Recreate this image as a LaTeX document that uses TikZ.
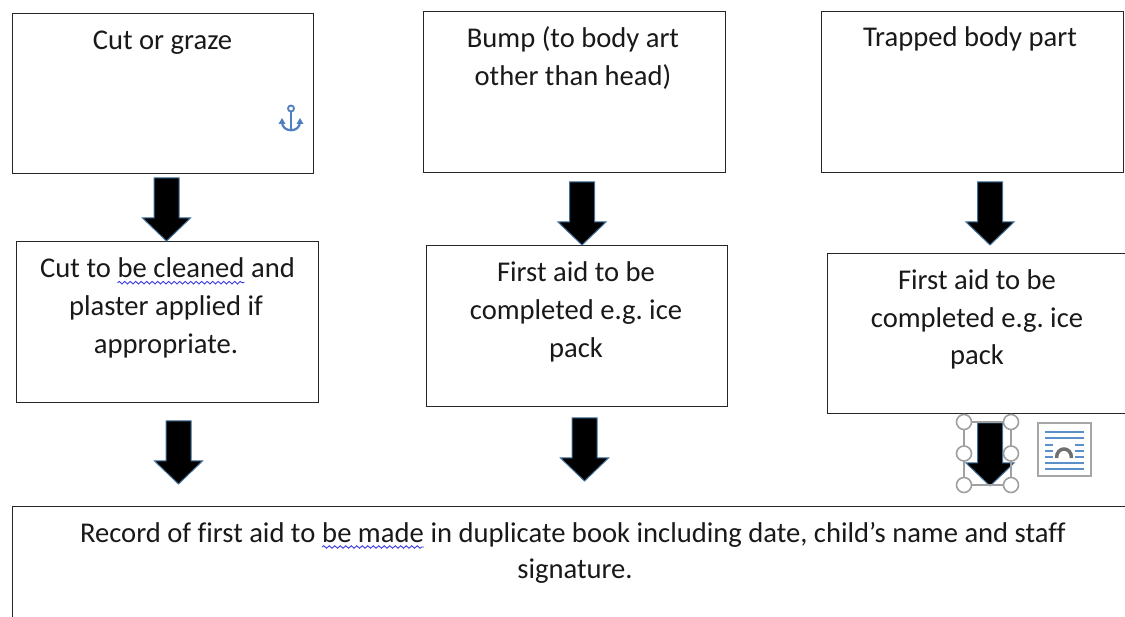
\documentclass[tikz,border=0pt]{standalone}
\usepackage{fontspec}
\setmainfont[Ligatures=NoCommon]{Carlito}
\frenchspacing
\usetikzlibrary{decorations.pathmorphing}
\definecolor{spell}{RGB}{60,60,225}
\definecolor{arrowedge}{RGB}{65,113,156}
\definecolor{handlegray}{RGB}{160,160,160}
\definecolor{anchorblue}{RGB}{79,127,191}
\definecolor{iconblue}{RGB}{91,143,201}
\definecolor{icongray}{RGB}{112,112,112}
\tikzset{
  box/.style={draw=black!85, line width=1.4pt, inner sep=0pt, anchor=north west, fill=white},
  txt/.style={anchor=base, inner sep=0pt, font=\fontsize{28.6}{37.5}\selectfont, text=black!90},
  arrowstyle/.style={fill=black, draw=arrowedge, line width=1pt, line join=miter},
  blockarrow/.pic={\path[arrowstyle] (-12.5,0) -- (12.5,0) -- (12.5,40) -- (24,40) -- (0,63) -- (-24,40) -- (-12.5,40) -- cycle;},
  handle/.style={draw=handlegray, fill=white, line width=1.6pt},
  spellwave/.style={spell, line width=0.9pt, decorate, decoration={snake, amplitude=1.3pt, segment length=5.5pt}},
}
\begin{document}
\begin{tikzpicture}[x=1pt,y=-1pt]
\useasboundingbox (0,0) rectangle (1125,617);
\clip (0,0) rectangle (1125,617);
\fill[white] (0,0) rectangle (1125,617);
% boxes
\node[box, minimum width=301pt, minimum height=160pt] (b1) at (12,13) {};
\node[box, minimum width=302pt, minimum height=161pt] (b2) at (423,11) {};
\node[box, minimum width=302pt, minimum height=161pt] (b3) at (821,11) {};
\node[box, minimum width=302pt, minimum height=161pt] (b4) at (16,241) {};
\node[box, minimum width=301pt, minimum height=161pt] (b5) at (426,245) {};
\node[box, minimum width=302pt, minimum height=160pt] (b6) at (827,253) {};
\node[box, minimum width=1140pt, minimum height=140pt] (b7) at (12,506) {};
% texts
\node[txt] (t1) at (162.5,50) {Cut or graze};
\node[txt] (t2a) at (573,48) {Bump (to body art};
\node[txt] (t2b) at (573,86) {other than head)};
\node[txt] (t3) at (970,47) {Trapped body part};
\node[txt] (t4m) at (181,277.7) {be cleaned};
\node[txt, anchor=base east] (t4l) at ([xshift=-6.4pt]t4m.base west) {Cut to};
\node[txt, anchor=base west] (t4r) at ([xshift=6.4pt]t4m.base east) {and};
\node[txt] (t4b) at (166,316) {plaster applied if};
\node[txt] (t4c) at (166,354) {appropriate.};
\node[txt] (t5a) at (576,281.5) {First aid to be};
\node[txt] (t5b) at (576,320) {completed e.g. ice};
\node[txt] (t5c) at (576,357.5) {pack};
\node[txt] (t6a) at (977,289.5) {First aid to be};
\node[txt] (t6b) at (977,327.5) {completed e.g. ice};
\node[txt] (t6c) at (977,364.5) {pack};
\node[txt] (t7m) at (373,542) {be made};
\node[txt, anchor=base east] (t7l) at ([xshift=-6.4pt]t7m.base west) {Record of first aid to};
\node[txt, anchor=base west] (t7r) at ([xshift=6.4pt]t7m.base east) {in duplicate book including date, child’s name and staff};
\node[txt] (t7b) at (575,578) {signature.};
% spelling waves
\draw[spellwave] ([yshift=-5pt]t4m.base west) -- ([yshift=-5pt]t4m.base east);
\draw[spellwave] ([yshift=-5pt]t7m.base west) -- ([yshift=-5pt]t7m.base east);
% block arrows
\pic at (166.5,178) {blockarrow};
\pic at (178.5,421) {blockarrow};
\pic at (582,182) {blockarrow};
\pic at (584.5,418) {blockarrow};
\pic at (990,182) {blockarrow};
\pic at (990,423) {blockarrow};
% selection frame of last arrow
\draw[handlegray, line width=1.2pt] (964,422) rectangle (1011,485);
\foreach \hx in {964,1011}{\foreach \hy in {422,453.5,485}{\path[handle] (\hx,\hy) circle[radius=7.5pt];}}
% layout options icon
\draw[draw=black!35, line width=1.2pt, fill=white] (1038,423) rectangle (1091,476);
\foreach \ly in {432,438,463,469}{\draw[iconblue, line width=1.6pt] (1045,\ly) -- (1084,\ly);}
\foreach \ly in {445,451,457}{\draw[iconblue, line width=1.6pt] (1045,\ly) -- (1053,\ly) (1075,\ly) -- (1084,\ly);}
\draw[icongray, line width=3.5pt] (1056.5,458) .. controls (1056.5,446) and (1071.5,446) .. (1071.5,458);
% anchor icon
\draw[anchorblue, line width=1.8pt] (291,108.5) circle[radius=3pt];
\draw[anchorblue, line width=2.2pt] (291,111.5) -- (291,130);
\draw[anchorblue, line width=2.2pt] (282,122) .. controls (282,133) and (300,133) .. (300,122);
\fill[anchorblue] (278.5,124) -- (285.5,124) -- (282,118) -- cycle;
\fill[anchorblue] (296.5,124) -- (303.5,124) -- (300,118) -- cycle;
\end{tikzpicture}
\end{document}
